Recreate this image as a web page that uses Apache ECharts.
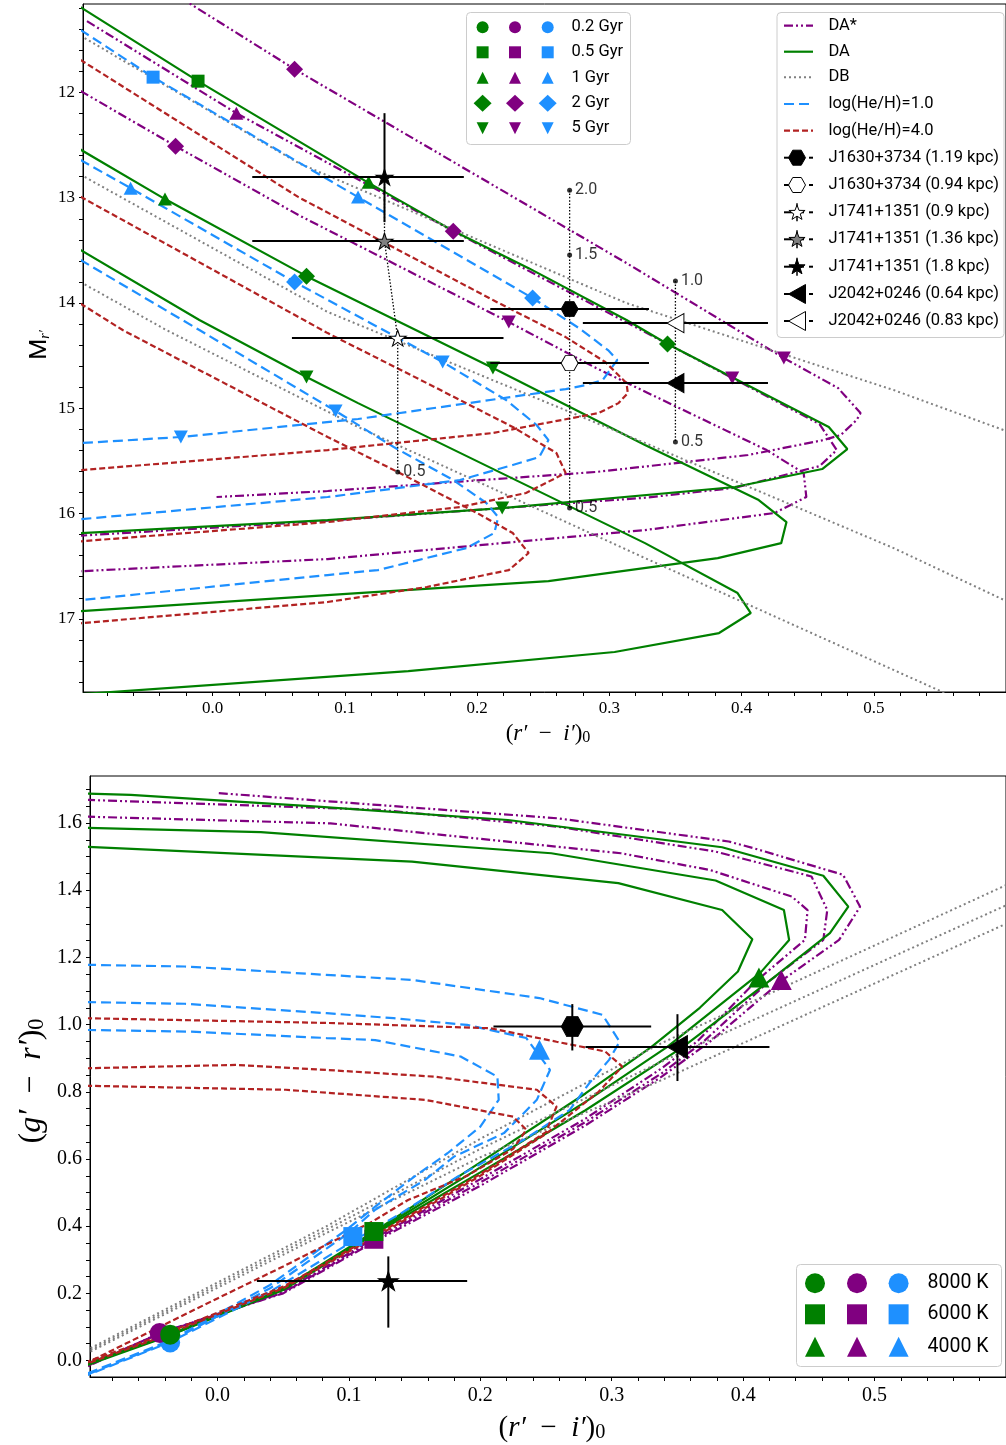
<!DOCTYPE html>
<html><head><meta charset="utf-8">
<script src="https://cdn.jsdelivr.net/npm/echarts@6/dist/echarts.min.js"></script>
<style>html,body{margin:0;padding:0;background:#fff}#c{width:1006px;height:1445px}</style>
</head><body><div id="c"></div>
<script>
// ---------- tick labels ----------
const xTickVals = [0, 0.1, 0.2, 0.3, 0.4, 0.5];
const yTopTickVals = [12, 13, 14, 15, 16, 17];
const yBotTickVals = [0, 0.2, 0.4, 0.6, 0.8, 1.0, 1.2, 1.4, 1.6];

// ---------- TOP PANEL: (r'-i')0 vs M_r' ----------
const topDAs1 = [[-0.025,11.095],[0.062,11.779],[0.313,13.621],[0.432,14.523],[0.473,14.808],[0.490,15.045],[0.487,15.112],[0.475,15.254],[0.462,15.302],[0.405,15.444],[0.290,15.605],[0.087,15.786],[0.003,15.843]];
const topDAs2 = [[-0.095,11.323],[0.018,12.197],[0.182,13.318],[0.393,14.713],[0.459,15.150],[0.472,15.397],[0.459,15.549],[0.395,15.755],[0.327,15.850],[0.087,16.068],[-0.1,16.210]];
const topDAs3 = [[-0.1,11.985],[-0.028,12.510],[0.065,13.165],[0.224,14.181],[0.290,14.618],[0.419,15.397],[0.447,15.615],[0.449,15.843],[0.425,15.995],[0.327,16.157],[0.087,16.432],[-0.1,16.548]];
const topDA1 = [[-0.1,11.19],[-0.011,11.893],[0.117,12.852],[0.181,13.308],[0.239,13.669],[0.313,14.162],[0.344,14.390],[0.466,15.178],[0.480,15.387],[0.461,15.577],[0.395,15.748],[0.219,15.948],[0.087,16.062],[-0.1,16.186]];
const topDA2 = [[-0.1,12.542],[-0.036,13.013],[0.071,13.745],[0.212,14.618],[0.327,15.349],[0.413,15.872],[0.434,16.081],[0.430,16.281],[0.382,16.423],[0.254,16.641],[0.110,16.755],[-0.1,16.928]];
const topDA3 = [[-0.1,13.495],[-0.010,14.162],[0.071,14.703],[0.110,14.951],[0.327,16.281],[0.397,16.755],[0.407,16.945],[0.383,17.135],[0.304,17.315],[0.148,17.496],[-0.1,17.716]];
const topDB1 = [[-0.1,11.46],[0.065,12.671],[0.313,14.001],[0.515,14.827],[0.6,15.215]];
const topDB2 = [[-0.1,12.78],[0.087,14.085],[0.327,15.330],[0.515,16.328],[0.6,16.83]];
const topDB3 = [[-0.1,13.80],[-0.035,14.257],[0.110,15.178],[0.327,16.423],[0.552,17.695],[0.565,17.77]];
const topH1a = [[-0.1,11.405],[-0.045,11.855],[0.110,12.994],[0.242,13.953],[0.277,14.238],[0.299,14.447],[0.306,14.542],[0.295,14.732],[0.282,14.780],[0.267,14.818],[0.110,15.102],[-0.024,15.273],[-0.1,15.331]];
const topH1b = [[-0.1,12.64],[-0.062,12.909],[0.062,13.801],[0.174,14.561],[0.222,14.922],[0.245,15.159],[0.254,15.302],[0.247,15.463],[0.227,15.539],[0.187,15.682],[0.087,15.843],[-0.1,16.054]];
const topH1c = [[-0.1,13.59],[-0.010,14.257],[0.093,15.026],[0.137,15.368],[0.182,15.682],[0.207,15.900],[0.216,16.033],[0.213,16.185],[0.192,16.328],[0.125,16.537],[0.087,16.584],[-0.1,16.822]];
const topH4a = [[-0.1,11.69],[0.065,12.995],[0.212,13.972],[0.267,14.324],[0.297,14.561],[0.313,14.761],[0.314,14.856],[0.307,14.951],[0.292,15.045],[0.212,15.235],[0.087,15.397],[-0.1,15.588]];
const topH4b = [[-0.1,12.99],[0.087,14.286],[0.162,14.761],[0.227,15.178],[0.260,15.425],[0.267,15.615],[0.237,15.805],[0.187,15.938],[0.087,16.081],[-0.1,16.264]];
const topH4c = [[-0.1,14.005],[-0.068,14.257],[0.087,15.273],[0.140,15.605],[0.200,15.995],[0.227,16.185],[0.239,16.375],[0.224,16.537],[0.162,16.698],[0.087,16.840],[-0.1,17.042]];

// age markers [x, y, ageIndex]
const ageLabels = ['0.2 Gyr', '0.5 Gyr', '1 Gyr', '2 Gyr', '5 Gyr'];
const markTopDA = [[-0.011,11.893,1],[0.118,12.852,2],[-0.036,13.013,2],[0.344,14.390,3],[0.071,13.745,3],[0.219,15.948,4],[0.212,14.618,4],[0.071,14.703,4]];
const markTopDAs = [[0.062,11.779,3],[-0.028,12.510,3],[0.182,13.318,3],[0.018,12.197,2],[0.224,14.181,4],[0.432,14.523,4],[0.393,14.713,4]];
const markTopH1 = [[-0.045,11.855,1],[-0.062,12.909,2],[0.110,12.994,2],[0.062,13.801,3],[0.242,13.953,3],[0.174,14.561,4],[0.093,15.026,4],[-0.024,15.273,4]];

// observed objects
const obsNames = ['J1630+3734 (1.19 kpc)','J1630+3734 (0.94 kpc)','J1741+1351 (0.9 kpc)','J1741+1351 (1.36 kpc)','J1741+1351 (1.8 kpc)','J2042+0246 (0.64 kpc)','J2042+0246 (0.83 kpc)'];
const obsTopX = [0.27, 0.27, 0.14, 0.13, 0.13, 0.35, 0.35];
const obsTopY = [14.058, 14.571, 14.333, 13.412, 12.804, 14.761, 14.191];
const obsTopXLo = [0.06, 0.06, 0.08, 0.10, 0.10, 0.07, 0.07];
const obsTopXHi = [0.06, 0.06, 0.08, 0.06, 0.06, 0.07, 0.07];
const obsTopYLo = [0, 0, 0, 0, 0.607, 0, 0];
const obsTopYHi = [0, 0, 0, 0, 0.428, 0, 0];
// distance tracks
const distJ1741 = [[0.13,12.804],[0.13,13.412],[0.14,14.333],[0.14,15.606]];
const distJ1630 = [[0.27,12.929],[0.27,15.948]];
const distJ2042 = [[0.35,13.792],[0.35,15.321]];
const distDots = [[0.27,12.929],[0.27,13.545],[0.27,15.948],[0.35,13.792],[0.35,15.321],[0.14,15.606]];
const distLabels = ['2.0', '1.5', '0.5', '1.0', '0.5', '0.5'];

// ---------- BOTTOM PANEL: (r'-i')0 vs (g'-r')0 ----------
const botDAs1 = [[0.001,1.689],[0.259,1.614],[0.389,1.545],[0.408,1.525],[0.476,1.446],[0.489,1.351],[0.473,1.252],[0.43,1.133],[0.375,0.95],[0.338,0.845],[0.28,0.70],[0.2,0.52],[0.12,0.355],[0.05,0.2],[-0.044,0.082],[-0.1,-0.02]];
const botDAs2 = [[-0.1,1.669],[0.124,1.639],[0.259,1.589],[0.379,1.515],[0.452,1.441],[0.464,1.341],[0.461,1.252],[0.42,1.13],[0.37,0.95],[0.338,0.855],[0.28,0.71],[0.2,0.53],[0.12,0.36],[0.05,0.202],[-0.044,0.08],[-0.1,-0.018]];
const botDAs3 = [[-0.1,1.619],[0.086,1.599],[0.307,1.51],[0.375,1.46],[0.437,1.381],[0.449,1.341],[0.447,1.252],[0.41,1.13],[0.365,0.95],[0.338,0.87],[0.28,0.72],[0.2,0.54],[0.12,0.365],[0.05,0.205],[-0.044,0.08],[-0.1,-0.016]];
const botDA1 = [[-0.1,1.688],[-0.066,1.684],[0.076,1.649],[0.221,1.609],[0.384,1.528],[0.461,1.443],[0.480,1.351],[0.466,1.272],[0.42,1.13],[0.354,0.933],[0.28,0.745],[0.2,0.56],[0.12,0.378],[0.05,0.21],[-0.036,0.075],[-0.1,-0.015]];
const botDA2 = [[-0.1,1.586],[0.033,1.573],[0.254,1.51],[0.379,1.429],[0.431,1.341],[0.435,1.252],[0.413,1.154],[0.342,0.933],[0.28,0.77],[0.2,0.575],[0.12,0.382],[0.05,0.212],[-0.036,0.076],[-0.1,-0.012]];
const botDA3 = [[-0.1,1.529],[0.148,1.485],[0.305,1.421],[0.384,1.341],[0.407,1.254],[0.396,1.158],[0.367,1.05],[0.33,0.933],[0.28,0.795],[0.2,0.59],[0.12,0.386],[0.05,0.215],[-0.036,0.078],[-0.1,-0.01]];
const botDB1 = [[-0.1,0.03],[0.083,0.40],[0.2,0.66],[0.338,0.945],[0.6,1.415]];
const botDB2 = [[-0.1,0.025],[0.083,0.39],[0.2,0.63],[0.338,0.89],[0.6,1.355]];
const botDB3 = [[-0.1,0.02],[0.083,0.38],[0.2,0.605],[0.338,0.835],[0.6,1.30]];
const botH1a = [[-0.1,1.178],[-0.025,1.173],[0.148,1.133],[0.245,1.079],[0.293,1.029],[0.306,0.949],[0.298,0.895],[0.283,0.826],[0.268,0.746],[0.233,0.657],[0.183,0.548],[0.14,0.439],[0.105,0.36],[0.04,0.205],[-0.036,0.055],[-0.1,-0.045]];
const botH1b = [[-0.1,1.067],[-0.025,1.062],[0.083,1.034],[0.134,1.019],[0.19,0.999],[0.235,0.96],[0.253,0.865],[0.243,0.776],[0.218,0.677],[0.18,0.607],[0.158,0.538],[0.12,0.449],[0.1,0.38],[0.04,0.215],[-0.036,0.057],[-0.1,-0.043]];
const botH1c = [[-0.1,0.984],[-0.02,0.979],[0.083,0.96],[0.12,0.954],[0.185,0.905],[0.213,0.845],[0.214,0.776],[0.2,0.696],[0.175,0.617],[0.15,0.548],[0.12,0.458],[0.098,0.389],[0.04,0.225],[-0.036,0.06],[-0.1,-0.04]];
const botH4a = [[-0.1,1.019],[0.083,1.005],[0.208,0.989],[0.258,0.949],[0.295,0.92],[0.308,0.875],[0.29,0.80],[0.25,0.675],[0.2,0.55],[0.13,0.39],[0.05,0.215],[-0.05,0.06],[-0.1,-0.01]];
const botH4b = [[-0.1,0.87],[0.014,0.88],[0.083,0.865],[0.165,0.845],[0.243,0.806],[0.258,0.756],[0.25,0.68],[0.2,0.555],[0.13,0.395],[0.05,0.22],[-0.05,0.065],[-0.1,-0.005]];
const botH4c = [[-0.1,0.818],[0.052,0.806],[0.158,0.776],[0.225,0.726],[0.235,0.687],[0.225,0.63],[0.19,0.55],[0.145,0.478],[0.118,0.414],[0.05,0.28],[0.0,0.185],[-0.1,-0.008]];

const tempLabels = ['8000 K', '6000 K', '4000 K'];
const markBotDA = [[-0.036,0.077,0],[0.119,0.384,1],[0.412,1.14,2]];
const markBotDAs = [[-0.044,0.082,0],[0.119,0.361,1],[0.429,1.133,2]];
const markBotH1 = [[-0.036,0.054,0],[0.103,0.369,1],[0.245,0.925,2]];

const obsBotX = [0.27, 0.13, 0.35];
const obsBotY = [0.994, 0.237, 0.933];
const obsBotXLo = [0.06, 0.10, 0.07];
const obsBotXHi = [0.06, 0.06, 0.07];
const obsBotYLo = [0.071, 0.139, 0.101];
const obsBotYHi = [0.067, 0.073, 0.098];

const modelLabels = ['DA*', 'DA', 'DB', 'log(He/H)=1.0', 'log(He/H)=4.0'];

// ---------- styling ----------
const C_G = '#008000', C_P = '#800080', C_B = '#1E90FF', C_R = '#B22222', C_GR = '#808080';
const DASH_DAS = [9, 3, 2, 3, 2, 3];
const DASH_H1 = [10, 5];
const DASH_H4 = [6, 3];
const DASH_DB = [2, 3];
const modelStyles = [
  {color: C_P, type: DASH_DAS, w: 2.2},
  {color: C_G, type: 'solid', w: 2.2},
  {color: C_GR, type: DASH_DB, w: 2},
  {color: C_B, type: DASH_H1, w: 2.2},
  {color: C_R, type: DASH_H4, w: 2.2}
];
const HEX = 'path://M0,50 L25,6.7 L75,6.7 L100,50 L75,93.3 L25,93.3 Z';
const STAR = 'path://M50,0 L61.2,34.5 L97.6,34.5 L68.2,55.9 L79.4,90.5 L50,69.1 L20.6,90.5 L31.8,55.9 L2.4,34.5 L38.8,34.5 Z';
const LTRI = 'path://M0,50 L100,0 L100,100 Z';
const DTRI = 'path://M0,0 L100,0 L50,100 Z';
const ageSym = ['circle', 'rect', 'triangle', 'diamond', DTRI];
const ageSize = [[12,12],[13,13],[14,13],[17,17],[14,13]];
const tempSym = ['circle', 'rect', 'triangle'];
const tempSize = [[20,20],[19,19],[21,20]];
const obsKind = ['hex','hex','star','star','star','ltri','ltri'];
const obsFill = ['#000','#fff','#fff','#808080','#000','#000','#fff'];
const kindSym = {hex: HEX, star: STAR, ltri: LTRI};
const kindSizeTop = {hex: [17,15], star: [17,16], ltri: [17,19]};
const kindSizeBot = {hex: [22,20], star: [20,19], ltri: [20,23]};
const botObsKind = ['hex', 'star', 'ltri'];

function lineS(data, st, gi) {
  return {type:'line', xAxisIndex:gi, yAxisIndex:gi, data:data, showSymbol:false, symbol:'none',
    lineStyle:{color:st.color, width:st.w, type:st.type}, clip:true, silent:true, z:2,
    emphasis:{disabled:true}, animation:false};
}
function markS(data, color, gi, syms, sizes, z) {
  return {type:'scatter', xAxisIndex:gi, yAxisIndex:gi, data:data,
    symbol:function(v){return syms[v[2]];}, symbolSize:function(v){return sizes[v[2]];},
    itemStyle:{color:color, opacity:1}, z:z, silent:true, clip:true, animation:false};
}
function errRender(params, api) {
  const x = api.value(0), y = api.value(1), xl = api.value(2), xh = api.value(3), yl = api.value(4), yh = api.value(5);
  const ch = [];
  const a = api.coord([x - xl, y]), b = api.coord([x + xh, y]);
  ch.push({type:'line', shape:{x1:a[0], y1:a[1], x2:b[0], y2:b[1]}, style:{stroke:'#000', lineWidth:2}});
  if (yl > 0 || yh > 0) {
    const c = api.coord([x, y - yl]), d = api.coord([x, y + yh]);
    ch.push({type:'line', shape:{x1:c[0], y1:c[1], x2:d[0], y2:d[1]}, style:{stroke:'#000', lineWidth:2}});
  }
  return {type:'group', children:ch};
}

const series = [];
[[topDAs1,topDAs2,topDAs3],[topDA1,topDA2,topDA3],[topDB1,topDB2,topDB3],[topH1a,topH1b,topH1c],[topH4a,topH4b,topH4c]].forEach(function(g, k){
  g.forEach(function(d){ series.push(lineS(d, modelStyles[k], 0)); });
});
[[botDAs1,botDAs2,botDAs3],[botDA1,botDA2,botDA3],[botDB1,botDB2,botDB3],[botH1a,botH1b,botH1c],[botH4a,botH4b,botH4c]].forEach(function(g, k){
  g.forEach(function(d){ series.push(lineS(d, modelStyles[k], 1)); });
});
[distJ1741, distJ1630, distJ2042].forEach(function(d){
  series.push({type:'line', xAxisIndex:0, yAxisIndex:0, data:d, showSymbol:false, symbol:'none',
    lineStyle:{color:'#000', width:1.3, type:[1.5,1.8]}, z:3, silent:true, animation:false});
});
series.push({type:'scatter', xAxisIndex:0, yAxisIndex:0, z:3, silent:true, animation:false,
  data: distDots.map(function(p, i){ return {value:p, name:distLabels[i]}; }),
  symbol:'circle', symbolSize:5, itemStyle:{color:'#000'},
  label:{show:true, position:'right', distance:3, formatter:'{b}', fontFamily:'Roboto', fontSize:16, color:'#000'}});
series.push(markS(markTopH1, C_B, 0, ageSym, ageSize, 4));
series.push(markS(markTopDAs, C_P, 0, ageSym, ageSize, 4));
series.push(markS(markTopDA, C_G, 0, ageSym, ageSize, 4));
series.push(markS(markBotH1, C_B, 1, tempSym, tempSize, 4));
series.push(markS(markBotDAs, C_P, 1, tempSym, tempSize, 4));
series.push(markS(markBotDA, C_G, 1, tempSym, tempSize, 4));
series.push({type:'custom', xAxisIndex:0, yAxisIndex:0, z:5, silent:true, animation:false, renderItem:errRender,
  encode:{x:0, y:1}, data: obsTopX.map(function(x, i){ return [x, obsTopY[i], obsTopXLo[i], obsTopXHi[i], obsTopYLo[i], obsTopYHi[i]]; })});
series.push({type:'custom', xAxisIndex:1, yAxisIndex:1, z:5, silent:true, animation:false, renderItem:errRender,
  encode:{x:0, y:1}, data: obsBotX.map(function(x, i){ return [x, obsBotY[i], obsBotXLo[i], obsBotXHi[i], obsBotYLo[i], obsBotYHi[i]]; })});
series.push({type:'scatter', xAxisIndex:0, yAxisIndex:0, z:6, silent:true, animation:false,
  data: obsTopX.map(function(x, i){ return {value:[x, obsTopY[i]], symbol:kindSym[obsKind[i]], symbolSize:kindSizeTop[obsKind[i]],
    itemStyle:{color:obsFill[i], borderColor:'#000', borderWidth:1, opacity:1}}; })});
series.push({type:'scatter', xAxisIndex:1, yAxisIndex:1, z:6, silent:true, animation:false,
  data: obsBotX.map(function(x, i){ return {value:[x, obsBotY[i]], symbol:kindSym[botObsKind[i]], symbolSize:kindSizeBot[botObsKind[i]],
    itemStyle:{color:'#000', borderColor:'#000', borderWidth:1, opacity:1}}; })});

// ---------- axes ----------
function xAx(gi, mn, fs, mg) {
  return {type:'value', gridIndex:gi, min:mn, max:0.6, splitNumber:5, scale:true,
    axisLine:{show:true, onZero:false, lineStyle:{color:'#000', width:1}},
    axisTick:{show:true, inside:false, length:4, lineStyle:{color:'#000'}, customValues:xTickVals},
    minorTick:{show:true, splitNumber:5, length:4, lineStyle:{color:'#000'}},
    axisLabel:{show:true, customValues:xTickVals,
      formatter:function(v){ return (+v).toFixed(1); }, fontFamily:'Liberation Serif', fontSize:fs, color:'#000', margin:mg},
    splitLine:{show:false}, minorSplitLine:{show:false}};
}
function yAx(gi, mn, mx, inv, sn, msn, ticks, fmt, fs) {
  return {type:'value', gridIndex:gi, min:mn, max:mx, inverse:inv, splitNumber:sn, scale:true,
    axisLine:{show:true, onZero:false, lineStyle:{color:'#000', width:1}},
    axisTick:{show:true, inside:false, length:4, lineStyle:{color:'#000'}, customValues:ticks},
    minorTick:{show:true, splitNumber:msn, length:4, lineStyle:{color:'#000'}},
    axisLabel:{show:true, customValues:ticks,
      formatter:fmt, fontFamily:'Liberation Serif', fontSize:fs, color:'#000', margin:8},
    splitLine:{show:false}, minorSplitLine:{show:false}};
}

// ---------- legends (graphic) ----------
function poly(kind, cx, cy, w, h) {
  const hw = w / 2, hh = h / 2;
  if (kind === 'tri') return [[cx,cy-hh],[cx+hw,cy+hh],[cx-hw,cy+hh]];
  if (kind === 'dtri') return [[cx-hw,cy-hh],[cx+hw,cy-hh],[cx,cy+hh]];
  if (kind === 'diamond') return [[cx,cy-hh],[cx+hw,cy],[cx,cy+hh],[cx-hw,cy]];
  if (kind === 'ltri') return [[cx-hw,cy],[cx+hw,cy-hh],[cx+hw,cy+hh]];
  if (kind === 'hex') return [[cx-hw,cy],[cx-hw/2,cy-hh],[cx+hw/2,cy-hh],[cx+hw,cy],[cx+hw/2,cy+hh],[cx-hw/2,cy+hh]];
  const pts = [];
  for (let k = 0; k < 10; k++) {
    const r = (k % 2) ? 0.4 : 1, a = -Math.PI / 2 + k * Math.PI / 5;
    pts.push([cx + hw * r * Math.cos(a), cy + hh * r * Math.sin(a) + hh * 0.08]);
  }
  return pts;
}
function mk(kind, cx, cy, w, h, fill, stroke) {
  const st = {fill:fill, stroke:stroke || null, lineWidth:stroke ? 1 : 0};
  if (kind === 'circle') return {type:'circle', z:101, shape:{cx:cx, cy:cy, r:w/2}, style:st};
  if (kind === 'square') return {type:'rect', z:101, shape:{x:cx-w/2, y:cy-h/2, width:w, height:h}, style:st};
  return {type:'polygon', z:101, shape:{points:poly(kind, cx, cy, w, h)}, style:st};
}
function txt(s, x, y, fs) {
  return {type:'text', z:102, x:x, y:y, style:{text:s, fill:'#000', fontFamily:'Roboto', fontSize:fs,
    align:'left', verticalAlign:'middle', textAlign:'left', textVerticalAlign:'middle'}};
}
const gEls = [];
gEls.push({type:'rect', z:100, shape:{x:466.5, y:12.5, width:164, height:132, r:4}, style:{fill:'rgba(255,255,255,0.8)', stroke:'#cccccc', lineWidth:1}});
const ageKinds = ['circle','square','tri','diamond','dtri'];
const ageLegSize = [[12,12],[12,12],[12,12],[18,17],[12,12]];
const leg1Rows = [27.3, 52.3, 77.7, 103.3, 128.3];
const leg1Cols = [482.6, 515, 547.7];
const colColors = [C_G, C_P, C_B];
ageLabels.forEach(function(lab, r){
  leg1Cols.forEach(function(cx, c){ gEls.push(mk(ageKinds[r], cx, leg1Rows[r], ageLegSize[r][0], ageLegSize[r][1], colColors[c])); });
  gEls.push(txt(lab, 571.4, leg1Rows[r], 16.5));
});
gEls.push({type:'rect', z:100, shape:{x:777, y:12.5, width:227, height:325, r:4}, style:{fill:'rgba(255,255,255,0.8)', stroke:'#cccccc', lineWidth:1}});
const leg2Rows = [25.7, 51.7, 77.3, 104, 130.7, 157.7, 185, 212.3, 239.3, 266.7, 294, 321];
modelLabels.forEach(function(lab, i){
  const st = modelStyles[i];
  gEls.push({type:'line', z:101, shape:{x1:784, y1:leg2Rows[i], x2:813, y2:leg2Rows[i]},
    style:{stroke:st.color, lineWidth:st.w, lineDash: st.type === 'solid' ? null : st.type}});
  gEls.push(txt(lab, 828.4, leg2Rows[i], 16.5));
});
obsNames.forEach(function(lab, i){
  const y = leg2Rows[i + 5];
  gEls.push({type:'line', z:101, shape:{x1:784, y1:y, x2:804, y2:y}, style:{stroke:'#000', lineWidth:2}});
  gEls.push({type:'line', z:101, shape:{x1:809, y1:y, x2:813, y2:y}, style:{stroke:'#000', lineWidth:2}});
  if (obsKind[i] === 'star') gEls.push({type:'line', z:101, shape:{x1:797, y1:y-9, x2:797, y2:y+9}, style:{stroke:'#000', lineWidth:1.5}});
  const sz = kindSizeTop[obsKind[i]];
  gEls.push(mk(obsKind[i], 797, y, sz[0], sz[1], obsFill[i], '#000'));
  gEls.push(txt(lab, 828.4, y, 16.5));
});
gEls.push({type:'rect', z:100, shape:{x:796.5, y:1264.5, width:205, height:102, r:4}, style:{fill:'rgba(255,255,255,0.8)', stroke:'#cccccc', lineWidth:1}});
const tempKinds = ['circle','square','tri'];
const leg3Rows = [1283.3, 1314.3, 1346.7];
const leg3Cols = [815, 857, 898.6];
tempLabels.forEach(function(lab, r){
  leg3Cols.forEach(function(cx, c){ gEls.push(mk(tempKinds[r], cx, leg3Rows[r], 20, 20, colColors[c])); });
  gEls.push(txt(lab, 927.5, leg3Rows[r], 19.5));
});
function axTitle(x, y, rot, fs, first, second) {
  return {type:'text', z:102, x:x, y:y, rotation:rot, style:{
    text:'{p|(}{i|' + first + '}{p|\u2002−\u2002}{i|' + second + '}{p|)}{s|0}',
    align:'center', verticalAlign:'middle', textAlign:'center', textVerticalAlign:'middle',
    rich:{
      p:{fontFamily:'Liberation Serif', fontSize:fs, fill:'#000', lineHeight:fs*1.3, verticalAlign:'bottom'},
      i:{fontFamily:'Liberation Serif', fontStyle:'italic', fontSize:fs, fill:'#000', lineHeight:fs*1.3, verticalAlign:'bottom'},
      s:{fontFamily:'Liberation Serif', fontSize:fs*0.7, fill:'#000', lineHeight:fs*1.05, verticalAlign:'bottom'}
    }}};
}
gEls.push(axTitle(548, 731, 0, 23, 'r′', 'i′'));
gEls.push(axTitle(552, 1424, 0, 29, 'r′', 'i′'));
gEls.push(axTitle(27, 1081, Math.PI/2, 32, 'g′', 'r′'));
gEls.push({type:'text', z:102, x:38, y:345, rotation:Math.PI/2, style:{
  text:'{m|M}{s|r′}', align:'center', verticalAlign:'middle', textAlign:'center', textVerticalAlign:'middle',
  rich:{ m:{fontFamily:'Roboto', fontSize:24, fill:'#000', lineHeight:28, verticalAlign:'bottom'},
         s:{fontFamily:'Liberation Serif', fontStyle:'italic', fontSize:14, fill:'#000', lineHeight:17, verticalAlign:'bottom'} }}});

const chart = echarts.init(document.getElementById('c'), null, {renderer:'canvas', width:1006, height:1445});
chart.setOption({
  animation:false,
  backgroundColor:'#ffffff',
  grid:[
    {left:83, top:4, right:-8, bottom:753, show:true, borderColor:'#000', borderWidth:1, backgroundColor:'transparent'},
    {left:90, top:776, right:-13.3, bottom:68, show:true, borderColor:'#000', borderWidth:1, backgroundColor:'transparent'}
  ],
  xAxis:[ xAx(0, -0.098, 17, 8), xAx(1, -0.097, 20, 9) ],
  yAxis:[
    yAx(0, 11.16, 17.695, true, 5, 5, yTopTickVals, function(v){ return String(Math.round(v)); }, 17),
    yAx(1, -0.049, 1.74, false, 9, 4, yBotTickVals, function(v){ return (+v).toFixed(1); }, 20)
  ],
  series:series,
  graphic:{elements:gEls}
});
</script>
</body></html>
